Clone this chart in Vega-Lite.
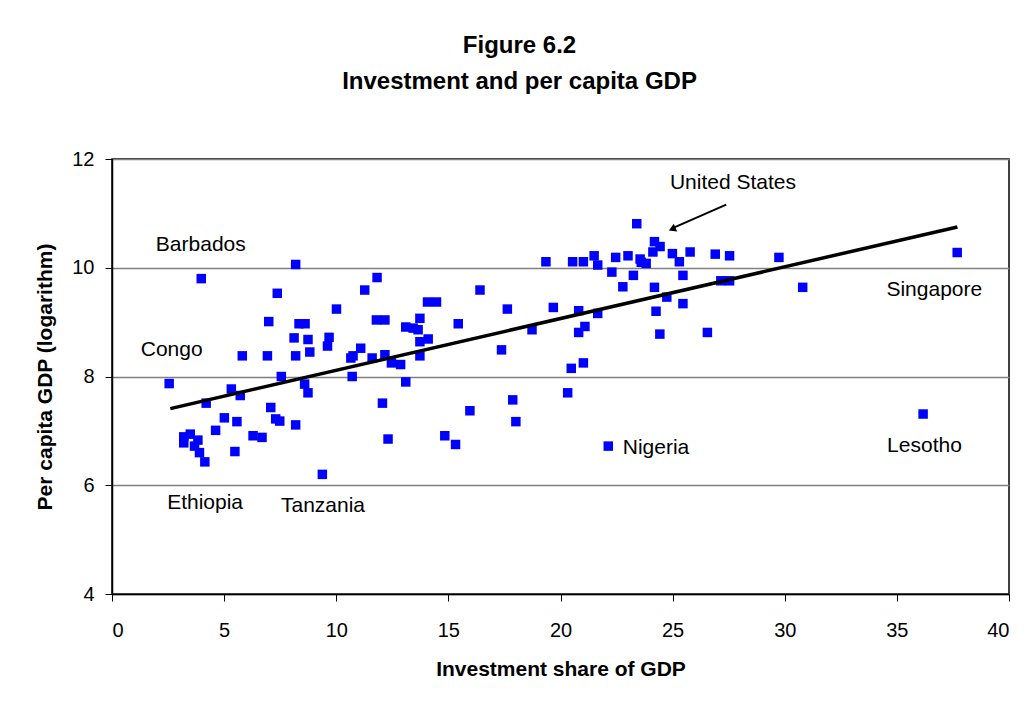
{
  "$schema": "https://vega.github.io/schema/vega-lite/v6.json",
  "autosize": {"type": "none"},
  "width": 897,
  "height": 435,
  "padding": {"left": 112, "top": 159, "right": 24, "bottom": 115},
  "background": "white",
  "title": {
    "text": ["Figure 6.2", "Investment and per capita GDP"],
    "font": "Liberation Sans",
    "fontSize": 24,
    "fontWeight": "bold",
    "color": "black",
    "lineHeight": 36,
    "anchor": "middle",
    "baseline": "bottom",
    "dx": -41,
    "offset": 31
  },
  "config": {
    "view": {"stroke": "black", "strokeWidth": 1.5},
    "font": "Liberation Sans",
    "axis": {
      "labelFont": "Liberation Sans",
      "labelFontSize": 20,
      "labelColor": "black",
      "titleFont": "Liberation Sans",
      "titleFontSize": 21,
      "titleFontWeight": "bold",
      "titleColor": "black",
      "domainColor": "black",
      "domainWidth": 1.5,
      "tickColor": "black",
      "tickSize": 7,
      "tickWidth": 1
    }
  },
  "datasets": {
    "countries": [
      {"invest": 3.98, "lngdp": 9.80},
      {"invest": 8.19, "lngdp": 10.06},
      {"invest": 7.37, "lngdp": 9.53},
      {"invest": 11.82, "lngdp": 9.82},
      {"invest": 11.27, "lngdp": 9.59},
      {"invest": 10.01, "lngdp": 9.24},
      {"invest": 6.99, "lngdp": 9.01},
      {"invest": 8.34, "lngdp": 8.97},
      {"invest": 8.61, "lngdp": 8.97},
      {"invest": 11.79, "lngdp": 9.04},
      {"invest": 12.17, "lngdp": 9.04},
      {"invest": 14.07, "lngdp": 9.37},
      {"invest": 14.47, "lngdp": 9.37},
      {"invest": 13.73, "lngdp": 9.07},
      {"invest": 13.10, "lngdp": 8.91},
      {"invest": 13.43, "lngdp": 8.89},
      {"invest": 13.65, "lngdp": 8.86},
      {"invest": 13.73, "lngdp": 8.64},
      {"invest": 14.10, "lngdp": 8.69},
      {"invest": 8.12, "lngdp": 8.71},
      {"invest": 8.74, "lngdp": 8.68},
      {"invest": 9.68, "lngdp": 8.72},
      {"invest": 9.61, "lngdp": 8.56},
      {"invest": 5.81, "lngdp": 8.38},
      {"invest": 6.93, "lngdp": 8.38},
      {"invest": 8.19, "lngdp": 8.38},
      {"invest": 8.82, "lngdp": 8.45},
      {"invest": 10.65, "lngdp": 8.34},
      {"invest": 10.75, "lngdp": 8.38},
      {"invest": 11.09, "lngdp": 8.52},
      {"invest": 11.60, "lngdp": 8.34},
      {"invest": 12.17, "lngdp": 8.40},
      {"invest": 12.46, "lngdp": 8.25},
      {"invest": 12.87, "lngdp": 8.22},
      {"invest": 13.73, "lngdp": 8.38},
      {"invest": 15.44, "lngdp": 8.97},
      {"invest": 10.71, "lngdp": 8.00},
      {"invest": 7.55, "lngdp": 8.00},
      {"invest": 13.10, "lngdp": 7.90},
      {"invest": 8.59, "lngdp": 7.86},
      {"invest": 5.32, "lngdp": 7.77},
      {"invest": 5.72, "lngdp": 7.65},
      {"invest": 8.74, "lngdp": 7.70},
      {"invest": 12.06, "lngdp": 7.51},
      {"invest": 2.55, "lngdp": 7.87},
      {"invest": 4.20, "lngdp": 7.51},
      {"invest": 7.08, "lngdp": 7.43},
      {"invest": 5.01, "lngdp": 7.24},
      {"invest": 5.57, "lngdp": 7.17},
      {"invest": 7.30, "lngdp": 7.22},
      {"invest": 7.48, "lngdp": 7.18},
      {"invest": 8.19, "lngdp": 7.11},
      {"invest": 4.62, "lngdp": 7.01},
      {"invest": 3.20, "lngdp": 6.89},
      {"invest": 3.20, "lngdp": 6.78},
      {"invest": 3.49, "lngdp": 6.94},
      {"invest": 3.83, "lngdp": 6.83},
      {"invest": 3.68, "lngdp": 6.72},
      {"invest": 3.90, "lngdp": 6.60},
      {"invest": 4.14, "lngdp": 6.43},
      {"invest": 6.29, "lngdp": 6.91},
      {"invest": 6.69, "lngdp": 6.88},
      {"invest": 5.48, "lngdp": 6.62},
      {"invest": 12.31, "lngdp": 6.85},
      {"invest": 9.38, "lngdp": 6.20},
      {"invest": 23.40, "lngdp": 10.81},
      {"invest": 24.19, "lngdp": 10.48},
      {"invest": 24.44, "lngdp": 10.39},
      {"invest": 24.12, "lngdp": 10.29},
      {"invest": 24.99, "lngdp": 10.26},
      {"invest": 25.30, "lngdp": 10.11},
      {"invest": 25.78, "lngdp": 10.29},
      {"invest": 26.90, "lngdp": 10.25},
      {"invest": 27.54, "lngdp": 10.22},
      {"invest": 19.35, "lngdp": 10.11},
      {"invest": 20.54, "lngdp": 10.11},
      {"invest": 21.02, "lngdp": 10.11},
      {"invest": 21.50, "lngdp": 10.22},
      {"invest": 21.66, "lngdp": 10.05},
      {"invest": 22.46, "lngdp": 10.19},
      {"invest": 23.01, "lngdp": 10.22},
      {"invest": 23.55, "lngdp": 10.16},
      {"invest": 23.82, "lngdp": 10.08},
      {"invest": 23.60, "lngdp": 10.10},
      {"invest": 22.29, "lngdp": 9.92},
      {"invest": 23.25, "lngdp": 9.86},
      {"invest": 22.78, "lngdp": 9.65},
      {"invest": 24.19, "lngdp": 9.64},
      {"invest": 25.46, "lngdp": 9.86},
      {"invest": 27.15, "lngdp": 9.76},
      {"invest": 27.54, "lngdp": 9.76},
      {"invest": 24.74, "lngdp": 9.46},
      {"invest": 25.46, "lngdp": 9.34},
      {"invest": 16.41, "lngdp": 9.59},
      {"invest": 17.63, "lngdp": 9.24},
      {"invest": 19.68, "lngdp": 9.27},
      {"invest": 20.81, "lngdp": 9.21},
      {"invest": 21.66, "lngdp": 9.16},
      {"invest": 24.26, "lngdp": 9.20},
      {"invest": 18.73, "lngdp": 8.86},
      {"invest": 20.81, "lngdp": 8.81},
      {"invest": 21.09, "lngdp": 8.92},
      {"invest": 24.43, "lngdp": 8.78},
      {"invest": 26.55, "lngdp": 8.81},
      {"invest": 17.37, "lngdp": 8.49},
      {"invest": 20.48, "lngdp": 8.15},
      {"invest": 21.02, "lngdp": 8.25},
      {"invest": 20.32, "lngdp": 7.70},
      {"invest": 17.87, "lngdp": 7.57},
      {"invest": 15.96, "lngdp": 7.37},
      {"invest": 18.01, "lngdp": 7.17},
      {"invest": 14.84, "lngdp": 6.91},
      {"invest": 15.32, "lngdp": 6.75},
      {"invest": 22.13, "lngdp": 6.72},
      {"invest": 29.74, "lngdp": 10.19},
      {"invest": 30.80, "lngdp": 9.64},
      {"invest": 37.69, "lngdp": 10.28},
      {"invest": 36.17, "lngdp": 7.31}
    ],
    "fit": [
      {"invest": 2.6, "lngdp": 7.41},
      {"invest": 37.7, "lngdp": 10.75}
    ],
    "names": [
      {"name": "Barbados", "invest": 3.96, "lngdp": 10.42},
      {"name": "Congo", "invest": 2.66, "lngdp": 8.49},
      {"name": "Ethiopia", "invest": 4.15, "lngdp": 5.67},
      {"name": "Tanzania", "invest": 9.41, "lngdp": 5.61},
      {"name": "Nigeria", "invest": 24.26, "lngdp": 6.68},
      {"name": "United States", "invest": 27.69, "lngdp": 11.55},
      {"name": "Singapore", "invest": 36.67, "lngdp": 9.59},
      {"name": "Lesotho", "invest": 36.23, "lngdp": 6.72}
    ],
    "pointer": [
      {"invest": 27.39, "lngdp": 11.16, "invest2": 24.95, "lngdp2": 10.72}
    ],
    "pointerHead": [
      {"invest": 24.98, "lngdp": 10.71}
    ]
  },
  "layer": [
    {
      "data": {"name": "countries"},
      "mark": {"type": "point", "shape": "square", "filled": true, "size": 90, "color": "#0000FF", "opacity": 1},
      "encoding": {
        "x": {
          "field": "invest", "type": "quantitative",
          "scale": {"domain": [0, 40], "nice": false, "zero": false},
          "axis": {
            "title": "Investment share of GDP",
            "values": [0, 5, 10, 15, 20, 25, 30, 35, 40],
            "grid": false,
            "labelPadding": 19,
            "titlePadding": 18
          }
        },
        "y": {
          "field": "lngdp", "type": "quantitative",
          "scale": {"domain": [4, 12], "nice": false, "zero": false},
          "axis": {
            "title": "Per capita GDP (logarithm)",
            "values": [4, 6, 8, 10, 12],
            "grid": true,
            "gridColor": "#808080",
            "gridWidth": 1.5,
            "gridOpacity": 1,
            "labelPadding": 11,
            "titlePadding": 16
          }
        }
      }
    },
    {
      "data": {"name": "fit"},
      "mark": {"type": "line", "color": "black", "strokeWidth": 3.5},
      "encoding": {
        "x": {"field": "invest", "type": "quantitative"},
        "y": {"field": "lngdp", "type": "quantitative"}
      }
    },
    {
      "data": {"name": "pointer"},
      "mark": {"type": "rule", "color": "black", "strokeWidth": 2},
      "encoding": {
        "x": {"field": "invest", "type": "quantitative"},
        "y": {"field": "lngdp", "type": "quantitative"},
        "x2": {"field": "invest2"},
        "y2": {"field": "lngdp2"}
      }
    },
    {
      "data": {"name": "pointerHead"},
      "mark": {"type": "point", "shape": "triangle-up", "filled": true, "size": 70, "angle": 246, "color": "black", "opacity": 1},
      "encoding": {
        "x": {"field": "invest", "type": "quantitative"},
        "y": {"field": "lngdp", "type": "quantitative"}
      }
    },
    {
      "data": {"name": "names"},
      "mark": {"type": "text", "font": "Liberation Sans", "fontSize": 21, "color": "black", "align": "center", "baseline": "middle"},
      "encoding": {
        "x": {"field": "invest", "type": "quantitative"},
        "y": {"field": "lngdp", "type": "quantitative"},
        "text": {"field": "name"}
      }
    }
  ]
}
